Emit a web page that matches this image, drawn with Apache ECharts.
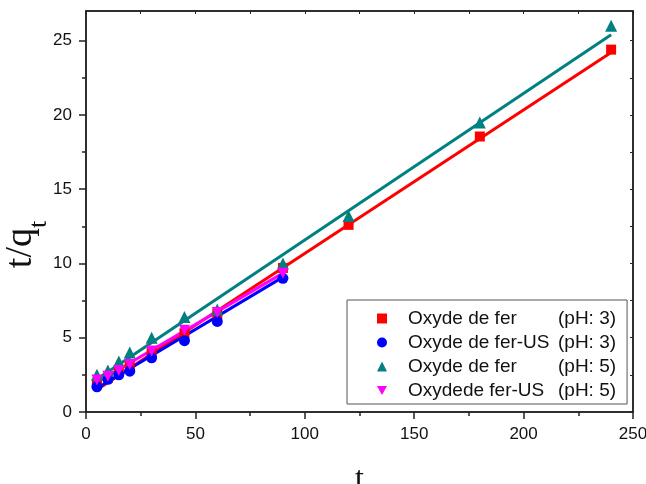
<!DOCTYPE html>
<html>
<head>
<meta charset="utf-8">
<script src="https://cdn.jsdelivr.net/npm/echarts@6/dist/echarts.min.js"></script>
<style>
  html, body { margin: 0; padding: 0; background: #fff; }
  #chart { width: 646px; height: 484px; }
</style>
</head>
<body>
<div id="chart"></div>
<script>
// measured points, t in min
const tShort = [5, 10, 15, 20, 30, 45, 60, 90];
const tLong = [5, 10, 15, 20, 30, 45, 60, 90, 120, 180, 240];

const feP3 = [1.9, 2.3, 2.7, 3.1, 4.0, 5.3, 6.6, 9.7, 12.6, 18.55, 24.4];
const feUsP3 = [1.7, 2.2, 2.5, 2.75, 3.65, 4.8, 6.1, 9.0];
const feP5 = [2.5, 2.8, 3.4, 4.0, 5.0, 6.4, 6.9, 10.0, 13.2, 19.5, 26.0];
const feUsP5 = [2.15, 2.4, 2.8, 3.2, 4.1, 5.5, 6.7, 9.35];

// linear fit lines, endpoints
const fitFeP3 = [[5, 1.5], [240, 24.2]];
const fitFeUsP3 = [[5, 1.6], [90, 9.08]];
const fitFeP5 = [[5, 2.2], [240, 25.4]];
const fitFeUsP5 = [[5, 2.0], [90, 9.35]];

const names = [
    'Oxyde de fer (pH: 3)',
    'Oxyde de fer-US (pH: 3)',
    'Oxyde de fer (pH: 5)',
    'Oxydede fer-US (pH: 5)'
];
const colors = ['#ff0000', '#0000ff', '#008080', '#ff00ff'];

const yMajor = [0, 5, 10, 15, 20, 25];
const yMinor = [2.5, 7.5, 12.5, 17.5, 22.5];
const yAll = [0, 2.5, 5, 7.5, 10, 12.5, 15, 17.5, 20, 22.5, 25];

const downTri = 'path://M0,0 L10,0 L5,9 Z';

function pts(xs, ys) {
    return ys.map(function (v, i) { return [xs[i], v]; });
}

function scatter(name, xs, ys, color, symbol, size) {
    return {
        name: name, type: 'scatter', data: pts(xs, ys),
        symbol: symbol, symbolSize: size,
        itemStyle: { color: color, opacity: 1 }, z: 3
    };
}
function fit(data, color) {
    return {
        type: 'line', data: data, showSymbol: false, symbol: 'none', silent: true,
        lineStyle: { color: color, width: 3 }, z: 2
    };
}

const axisColor = '#222';
const sans = 'Liberation Sans, Arial, sans-serif';
const serif = 'Liberation Serif, Times New Roman, serif';

let option = {
    animation: false,
    backgroundColor: '#fff',
    grid: {
        left: 86, right: 13, top: 11, bottom: 72,
        outerBoundsMode: 'none', containLabel: false,
        show: true, borderColor: axisColor, borderWidth: 1.5
    },
    legend: {
        data: names,
        orient: 'vertical',
        left: 347, top: 300,
        width: 279,
        padding: [9, 11, 4, 30],
        itemGap: 5,
        itemWidth: 10, itemHeight: 10,
        borderColor: '#555', borderWidth: 1,
        formatter: function (n) {
            let k = n.indexOf(' (');
            return '{a|' + n.slice(0, k) + '}{b|' + n.slice(k + 1) + '}';
        },
        textStyle: {
            rich: {
                a: { fontFamily: sans, fontSize: 19, color: '#111', width: 150, padding: [0, 0, 0, 16] },
                b: { fontFamily: sans, fontSize: 19, color: '#111' }
            }
        }
    },
    xAxis: [{
        type: 'value', position: 'bottom', min: 0, max: 250, interval: 50,
        name: 't', nameLocation: 'middle', nameGap: 52, nameMoveOverlap: false,
        nameTextStyle: { fontFamily: serif, fontSize: 32, color: '#111' },
        axisLine: { onZero: false, lineStyle: { color: axisColor, width: 1.5 } },
        axisTick: { length: 7, lineStyle: { color: axisColor, width: 1.5 } },
        minorTick: { show: true, splitNumber: 2, length: 4, lineStyle: { color: axisColor, width: 1.5 } },
        axisLabel: { margin: 14, fontFamily: sans, fontSize: 17, color: '#111' },
        splitLine: { show: false }
    }, {
        type: 'value', position: 'top', min: 0, max: 250, interval: 50,
        axisLine: { onZero: false, lineStyle: { color: axisColor, width: 1.5 } },
        axisTick: { inside: true, length: 3, lineStyle: { color: axisColor } },
        minorTick: { show: true, splitNumber: 2, length: 3, lineStyle: { color: axisColor } },
        axisLabel: { show: false },
        splitLine: { show: false }
    }],
    yAxis: [{
        type: 'value', position: 'left', min: 0, max: 27, interval: 5,
        name: '{m|t/q}{s|t}', nameLocation: 'middle', nameGap: 46, nameRotate: 90,
        nameMoveOverlap: false,
        nameTextStyle: {
            padding: [0, 66, 0, 0],
            rich: {
                m: { fontFamily: serif, fontSize: 38, lineHeight: 38, color: '#111' },
                s: { fontFamily: serif, fontSize: 26, lineHeight: 26, padding: [37, 0, 0, 0], color: '#111' }
            }
        },
        axisLine: { onZero: false, lineStyle: { color: axisColor, width: 1.5 } },
        axisTick: { length: 7, customValues: yMajor, lineStyle: { color: axisColor, width: 1.5 } },
        axisLabel: { margin: 14, customValues: yMajor, fontFamily: sans, fontSize: 17, color: '#111' },
        splitLine: { show: false }
    }, {
        type: 'value', position: 'left', min: 0, max: 27,
        axisLine: { show: false },
        axisTick: { length: 4, customValues: yMinor, lineStyle: { color: axisColor, width: 1.5 } },
        axisLabel: { show: false },
        splitLine: { show: false }
    }, {
        type: 'value', position: 'right', min: 0, max: 27,
        axisLine: { onZero: false, lineStyle: { color: axisColor, width: 1.5 } },
        axisTick: { inside: true, length: 3, customValues: yAll, lineStyle: { color: axisColor } },
        axisLabel: { show: false },
        splitLine: { show: false }
    }],
    series: [
        fit(fitFeP3, colors[0]),
        fit(fitFeUsP3, colors[1]),
        fit(fitFeP5, colors[2]),
        fit(fitFeUsP5, colors[3]),
        scatter(names[0], tLong, feP3, colors[0], 'rect', 10),
        scatter(names[1], tShort, feUsP3, colors[1], 'circle', 11),
        scatter(names[2], tLong, feP5, colors[2], 'triangle', 12),
        scatter(names[3], tShort, feUsP5, colors[3], downTri, 11)
    ]
};

let chart = echarts.init(document.getElementById('chart'));
chart.setOption(option);
</script>
</body>
</html>
